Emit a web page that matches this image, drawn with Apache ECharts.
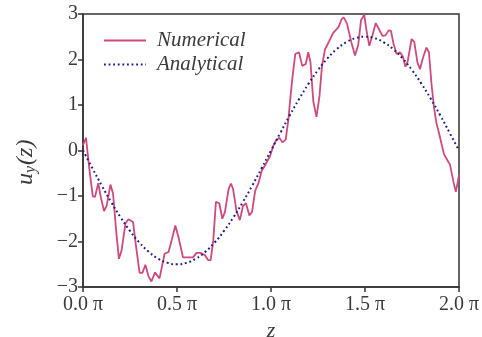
<!DOCTYPE html>
<html>
<head>
<meta charset="utf-8">
<script src="https://cdn.jsdelivr.net/npm/echarts@6/dist/echarts.min.js"></script>
<style>
  html, body { margin: 0; padding: 0; background: #fff; }
  #chart { width: 482px; height: 337px; }
</style>
</head>
<body>
<div id="chart"></div>
<script>
// z positions in units of pi, and the simulated displacement u_y
const numZ = [0.000, 0.016, 0.035, 0.052, 0.064, 0.081, 0.096, 0.112, 0.126, 0.146,
  0.160, 0.176, 0.191, 0.205, 0.226, 0.242, 0.266, 0.282, 0.301, 0.316,
  0.332, 0.348, 0.364, 0.383, 0.407, 0.434, 0.455, 0.473, 0.491, 0.507,
  0.532, 0.559, 0.585, 0.604, 0.624, 0.649, 0.666, 0.679, 0.693, 0.707,
  0.725, 0.741, 0.755, 0.775, 0.787, 0.798, 0.816, 0.834, 0.851, 0.867,
  0.885, 0.899, 0.916, 0.934, 0.951, 0.968, 0.995, 1.012, 1.027, 1.044,
  1.061, 1.078, 1.092, 1.104, 1.114, 1.129, 1.149, 1.166, 1.185, 1.198,
  1.210, 1.225, 1.242, 1.258, 1.271, 1.287, 1.309, 1.330, 1.359, 1.376,
  1.388, 1.404, 1.428, 1.447, 1.464, 1.479, 1.496, 1.508, 1.523, 1.539,
  1.557, 1.574, 1.593, 1.609, 1.626, 1.638, 1.652, 1.668, 1.686, 1.702,
  1.715, 1.727, 1.748, 1.762, 1.779, 1.793, 1.809, 1.827, 1.840, 1.854,
  1.867, 1.880, 1.894, 1.907, 1.920, 1.939, 1.952, 1.970, 1.983, 1.994, 2.000];
const numU = [0.12, 0.28, -0.45, -1.01, -1.02, -0.72, -1.05, -1.33, -1.21, -0.75,
  -0.95, -1.75, -2.38, -2.20, -1.60, -1.51, -1.57, -2.10, -2.69, -2.69,
  -2.51, -2.76, -2.88, -2.68, -2.81, -2.27, -2.23, -1.95, -1.65, -1.89,
  -2.35, -2.35, -2.35, -2.25, -2.25, -2.30, -2.41, -2.41, -1.97, -1.13,
  -1.16, -1.50, -1.35, -0.84, -0.73, -0.84, -1.32, -1.53, -1.22, -1.16,
  -1.43, -1.35, -0.88, -0.71, -0.44, -0.33, -0.12, 0.10, 0.22, 0.28,
  0.18, 0.24, 0.66, 1.20, 1.60, 2.12, 2.16, 1.86, 1.90, 2.16,
  1.94, 1.08, 0.74, 1.20, 1.85, 2.22, 2.40, 2.58, 2.71, 2.89,
  2.92, 2.79, 2.37, 2.09, 2.32, 2.87, 2.98, 2.64, 2.30, 2.52,
  2.80, 2.67, 2.52, 2.53, 2.64, 2.63, 2.34, 2.12, 2.16, 2.06,
  1.84, 1.96, 2.45, 2.39, 1.93, 1.79, 2.05, 2.26, 2.16, 1.45,
  0.95, 0.60, 0.38, 0.15, -0.08, -0.22, -0.31, -0.68, -0.91, -0.68, -0.53];

// analytical solution sampled every 0.05 pi
const anaZ = [0.00, 0.05, 0.10, 0.15, 0.20, 0.25, 0.30, 0.35, 0.40, 0.45,
  0.50, 0.55, 0.60, 0.65, 0.70, 0.75, 0.80, 0.85, 0.90, 0.95,
  1.00, 1.05, 1.10, 1.15, 1.20, 1.25, 1.30, 1.35, 1.40, 1.45,
  1.50, 1.55, 1.60, 1.65, 1.70, 1.75, 1.80, 1.85, 1.90, 1.95, 2.00];
const anaU = [0.000, -0.391, -0.773, -1.135, -1.469, -1.768, -2.023, -2.228, -2.378, -2.469,
  -2.500, -2.469, -2.378, -2.228, -2.023, -1.768, -1.469, -1.135, -0.773, -0.391,
  0.000, 0.391, 0.773, 1.135, 1.469, 1.768, 2.023, 2.228, 2.378, 2.469,
  2.500, 2.469, 2.378, 2.228, 2.023, 1.768, 1.469, 1.135, 0.773, 0.391, 0.000];

const xTicks = [0, 0.5, 1, 1.5, 2];
const yTicks = [-3, -2, -1, 0, 1, 2, 3];

const FONT = '"Liberation Serif", "DejaVu Serif", serif';
const AXIS = '#333333';
const TEXT = '#3a3a3a';
const NUM_COLOR = '#cf4a7c';
const ANA_COLOR = '#1a1a8a';

const chart = echarts.init(document.getElementById('chart'), null, { renderer: 'canvas' });

chart.setOption({
  animation: false,
  backgroundColor: '#ffffff',
  grid: {
    left: 83, right: 23, top: 14, bottom: 50,
    outerBoundsMode: 'none', containLabel: false,
    show: true, borderColor: AXIS, borderWidth: 1.5, backgroundColor: 'transparent'
  },
  legend: {
    left: 98, top: 25,
    orient: 'vertical',
    itemWidth: 42, itemHeight: 12, itemGap: 3,
    itemStyle: { opacity: 0 },
    textStyle: { fontFamily: FONT, fontSize: 21, fontStyle: 'italic', color: TEXT, padding: [0, 0, 0, 6] },
    data: ['Numerical', 'Analytical']
  },
  xAxis: {
    type: 'value', min: 0, max: 2, interval: 0.5,
    axisLine: { show: true, onZero: false, lineStyle: { color: AXIS, width: 1.5 } },
    axisTick: { show: true, inside: false, length: 5, lineStyle: { color: AXIS, width: 1.5 },
      customValues: xTicks },
    axisLabel: { fontFamily: FONT, fontSize: 20, color: TEXT, margin: 8,
      customValues: xTicks,
      formatter: v => v.toFixed(1) + ' \u03c0' },
    splitLine: { show: false },
    name: 'z', nameLocation: 'middle', nameGap: 28,
    nameTextStyle: { fontFamily: FONT, fontSize: 22, fontStyle: 'italic', color: TEXT }
  },
  yAxis: {
    type: 'value', min: -3, max: 3, interval: 1,
    axisLine: { show: true, onZero: false, lineStyle: { color: AXIS, width: 1.5 } },
    axisTick: { show: true, inside: false, length: 5, lineStyle: { color: AXIS, width: 1.5 },
      customValues: yTicks },
    axisLabel: { fontFamily: FONT, fontSize: 20, color: TEXT, margin: 5,
      customValues: yTicks,
      formatter: v => (v < 0 ? '\u2212' + Math.abs(v) : String(v)) },
    splitLine: { show: false }
  },
  graphic: [{
    type: 'text',
    x: 13, y: 185,
    rotation: Math.PI / 2,
    style: {
      text: '{i|u}{s|y}{i|(z)}',
      rich: {
        i: { fontFamily: FONT, fontSize: 24, fontStyle: 'italic', fill: TEXT },
        s: { fontFamily: FONT, fontSize: 16, fontStyle: 'italic', fill: TEXT, padding: [10, 1, 0, 0] }
      }
    }
  }],
  series: [
    {
      name: 'Numerical', type: 'line',
      data: numZ.map((z, i) => [z, numU[i]]),
      showSymbol: false, symbol: 'none',
      lineStyle: { color: NUM_COLOR, width: 1.8 },
      itemStyle: { color: NUM_COLOR },
      z: 2
    },
    {
      name: 'Analytical', type: 'line',
      data: anaZ.map((z, i) => [z, anaU[i]]),
      smooth: true,
      showSymbol: false, symbol: 'none',
      lineStyle: { color: ANA_COLOR, width: 2, type: [1.8, 2.8], cap: 'butt' },
      itemStyle: { color: ANA_COLOR },
      z: 3
    }
  ]
});
</script>
</body>
</html>
